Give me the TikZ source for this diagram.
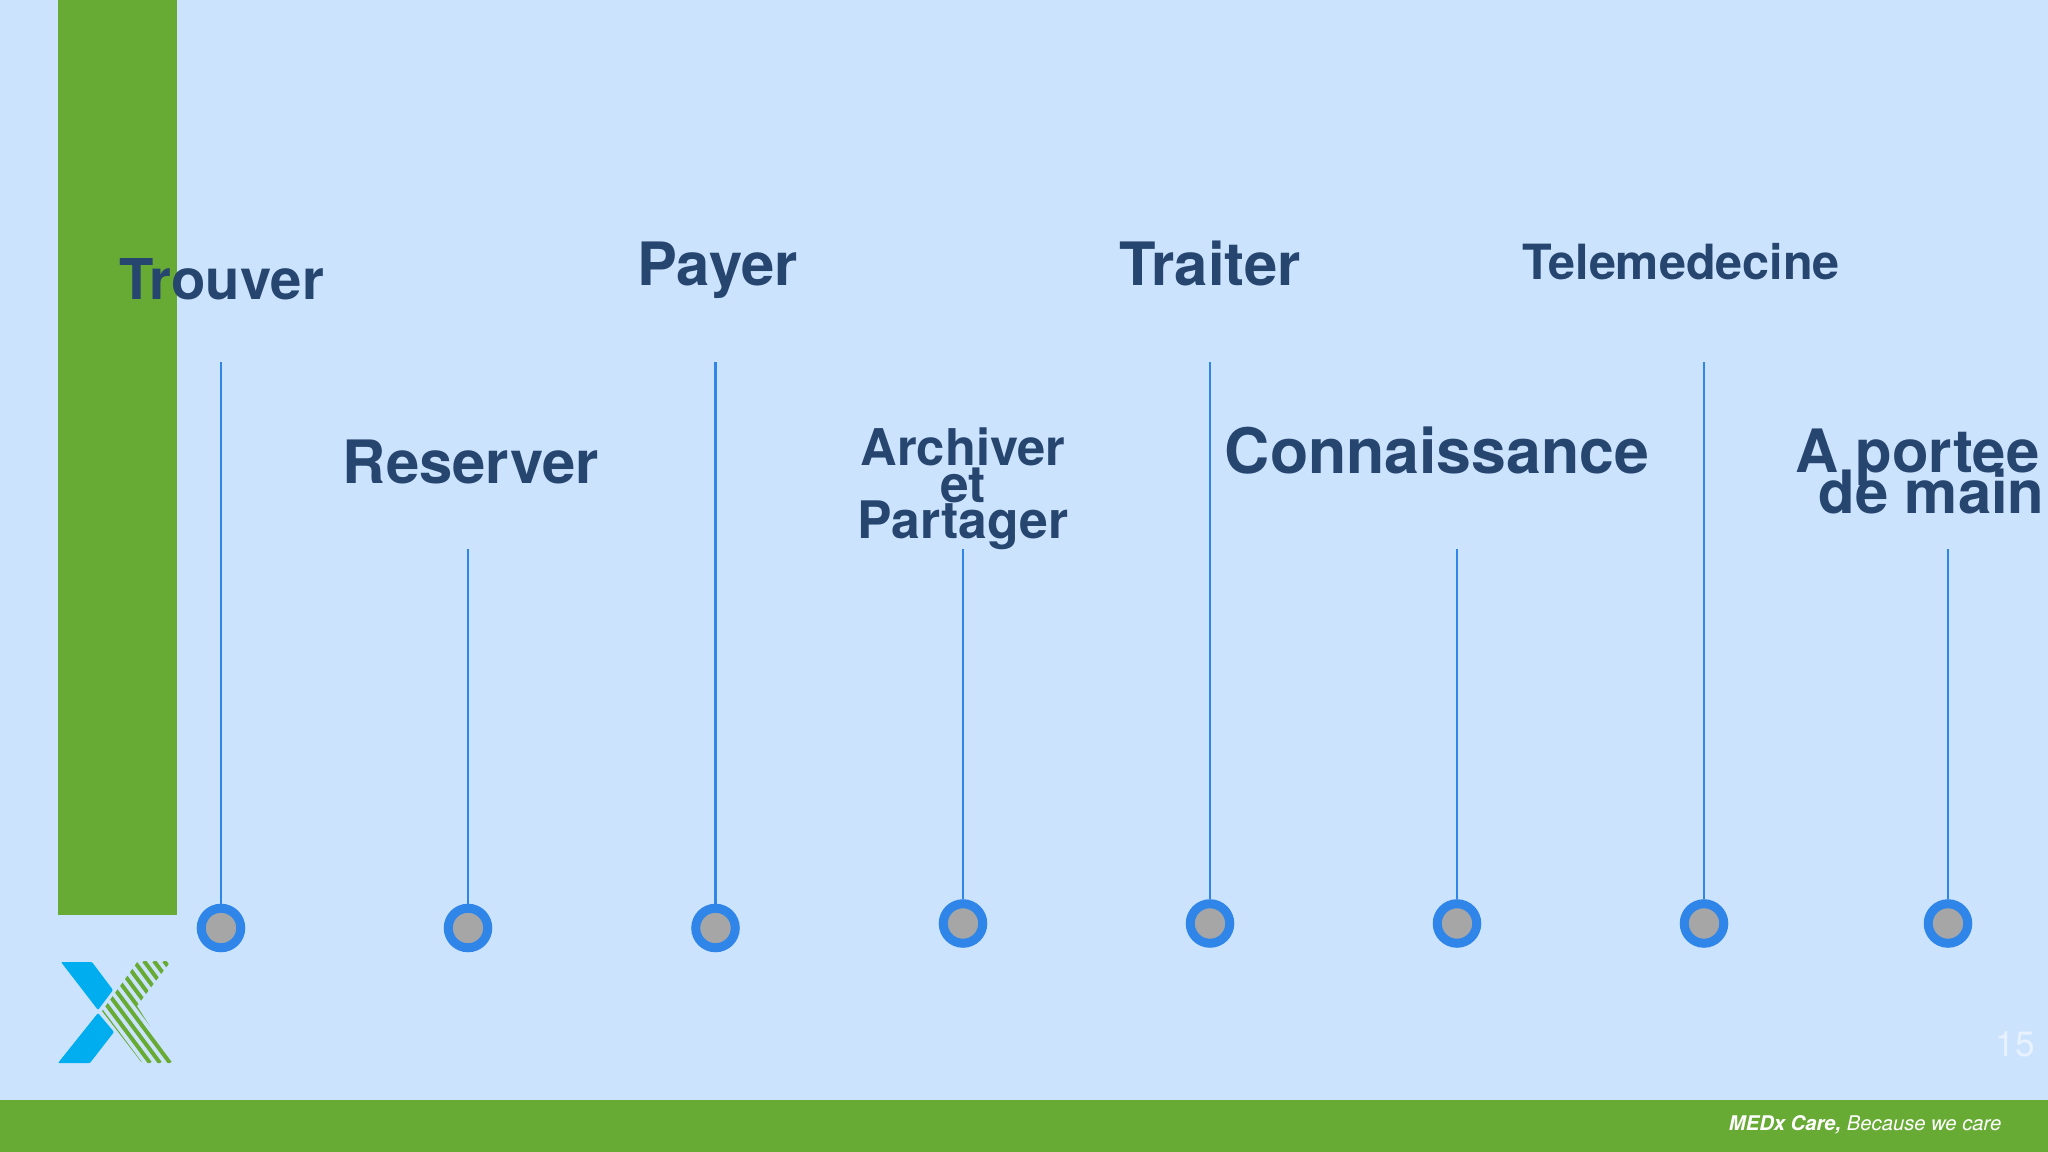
\documentclass[tikz,border=0pt]{standalone}
\usepackage{fontspec}
\setmainfont{TeX Gyre Heros}
\definecolor{bgblue}{HTML}{CCE3FE}
\definecolor{bargreen}{HTML}{67AB35}
\definecolor{pinblue}{HTML}{2F86E8}
\definecolor{pingrey}{HTML}{A6A6A6}
\definecolor{titleblue}{HTML}{26456F}
\definecolor{logoblue}{HTML}{00AEEF}
\tikzset{
    pin/.style={circle,draw=pinblue,fill=pingrey,line width=0.09cm,minimum size=0.395cm,inner sep=0},
    stem/.style={pinblue,line width=0.025cm},
    title/.style={text=titleblue,inner sep=0,anchor=base,font=\bfseries\fontsize{#1}{#1}\selectfont},
}

\begin{document}
\begin{tikzpicture}[x=0.01cm,y=-0.01cm]
        \useasboundingbox (0,0) rectangle (2048,1152);
        \fill[bgblue] (0,0) rectangle (2048,1152);
        \fill[bargreen] (57.5,0) rectangle (177,915);
        \fill[bargreen] (0,1100) rectangle (2048,1152);

        % Logo
        \fill[logoblue,rounded corners=0.01cm] (61,962) -- (92,962) -- (113,990) -- (98,1010) -- cycle;
        \fill[logoblue,rounded corners=0.01cm] (98,1013) -- (114,1032) -- (90,1063) -- (58,1063) -- cycle;
        \begin{scope}
            \clip (138,961) -- (171,961) -- (137,1006) -- (173.5,1063) -- (142,1063) -- (102,1011) -- cycle;
            \foreach \i in {0,...,14}
                \draw[bargreen,line width=0.04cm] (34+10*\i,961) -- (110+10*\i,1063) ;
        \end{scope}

        \coordinate (top1) at (221,362);
        \coordinate (top2) at (468,549);
        \coordinate (top3) at (715.5,362);
        \coordinate (top4) at (963,549);
        \coordinate (top5) at (1210,362);
        \coordinate (top6) at (1457,549);
        \coordinate (top7) at (1704,362);
        \coordinate (top8) at (1948,549);

        \node[pin] (pin1) at (221,928) {};
        \node[pin] (pin2) at (468,928) {};
        \node[pin] (pin3) at (715.5,928) {};
        \node[pin] (pin4) at (963,923.5) {};
        \node[pin] (pin5) at (1210,923.5) {};
        \node[pin] (pin6) at (1457,923.5) {};
        \node[pin] (pin7) at (1704,923.5) {};
        \node[pin] (pin8) at (1948,923.5) {};

        \draw[stem] (top1) -- (pin1);
        \draw[stem] (top2) -- (pin2);
        \draw[stem] (top3) -- (pin3);
        \draw[stem] (top4) -- (pin4);
        \draw[stem] (top5) -- (pin5);
        \draw[stem] (top6) -- (pin6);
        \draw[stem] (top7) -- (pin7);
        \draw[stem] (top8) -- (pin8);

        \node[title=16pt] (trouver) at (221.5,300) {Trouver};
        \node[title=17pt] (reserver) at (471,484) {Reserver};
        \node[title=17pt] (payer) at (717.5,286) {Payer};
        \node[title=14.4pt] (archiver) at (963,466) {Archiver};
        \node[title=14.6pt] (et) at (963,502) {et};
        \node[title=14.7pt] (partager) at (963,538) {Partager};
        \node[title=17pt] (traiter) at (1210,286) {Traiter};
        \node[title=17.8pt] (connaissance) at (1437,474) {Connaissance};
        \node[title=13.8pt] (telemedecine) at (1681,280) {Telemedecine};
        \node[title=17pt] (portee) at (1917.5,472) {A portee};
        \node[title=17pt] (main) at (1931.5,514) {de main};

        \node[inner sep=0,anchor=base,white,opacity=0.55,font=\fontsize{10}{10}\selectfont] (page) at (2015,1056) {15};
        \node[inner sep=0,anchor=base east,white,font=\fontsize{5.75}{6}\selectfont] (motto) at (2002,1130)
            {\bfseries\itshape MEDx Care, \mdseries Because we care};
\end{tikzpicture}
\end{document}
